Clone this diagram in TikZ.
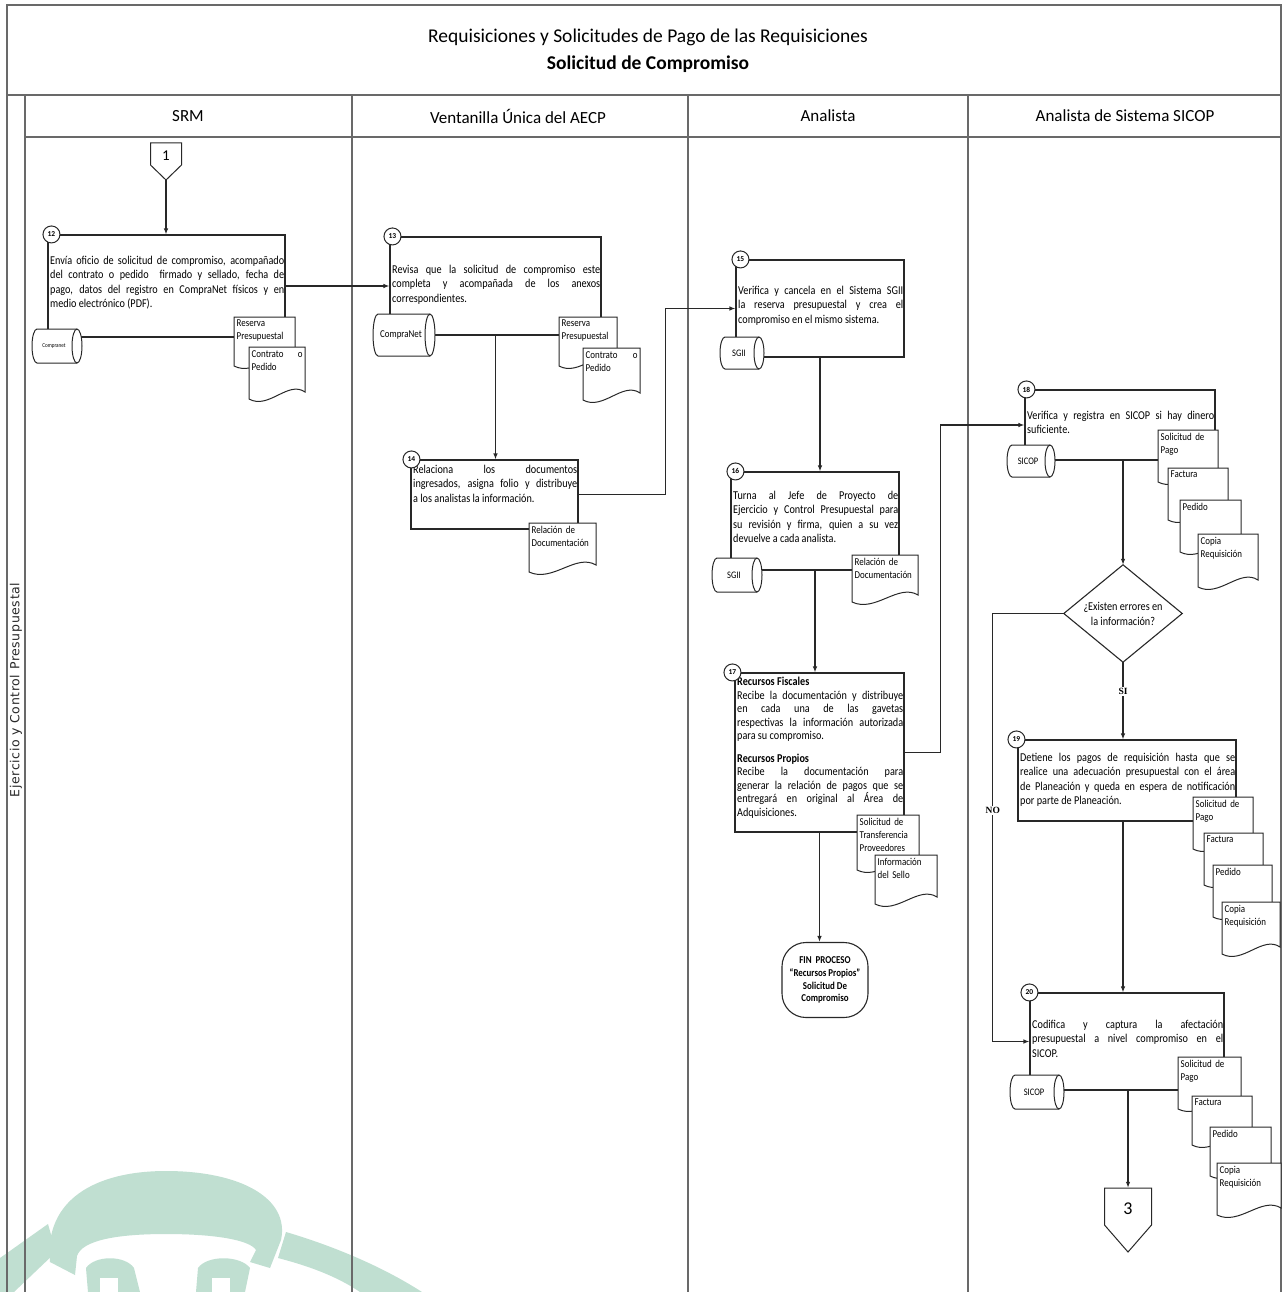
\documentclass[tikz,border=0pt]{standalone}
\usepackage{fontspec}
\setmainfont{Carlito}
\newfontfamily\bodyfont[FakeStretch=0.85]{Carlito}
\newfontfamily\sidefont[LetterSpace=5]{DejaVu Sans}
\newfontfamily\tagfont{Liberation Serif}
\usetikzlibrary{arrows.meta,fit,calc}

\definecolor{ink}{RGB}{40,40,40}
\definecolor{rulegray}{RGB}{105,105,105}
\definecolor{seal}{RGB}{192,223,209}

% database drum lying on its side: name, centre x, centre y, half width, half height, label
\newcommand\drum[6]{%
  \draw[drumline]
    ({#2+#4-5},{#3-#5}) -- ({#2-#4+5},{#3-#5})
    arc[start angle=90,end angle=270,x radius=5pt,y radius=#5pt]
    -- ({#2+#4-5},{#3+#5})
    arc[start angle=-90,end angle=90,x radius=5pt,y radius=#5pt] -- cycle;
  \draw[drumline,fill=none] ({#2+#4-5},{#3-#5})
    arc[start angle=90,end angle=270,x radius=5pt,y radius=#5pt];
  \node[drumtext] (#1) at ({#2-3},#3) {#6};}

% paper document with a wavy lower edge: name, x, y, width, height, label
\newcommand\paper[6]{%
  \draw[drumline]
    (#2,#3) -- ({#2+#4},#3) -- ({#2+#4},{#3+#5-10})
    .. controls ({#2+0.7*#4},{#3+#5-22}) and ({#2+0.35*#4},{#3+#5+8}) .. (#2,{#3+#5-3}) -- cycle;
  \pgfmathsetmacro\paperwd{#4-5}
  \node[papertext, text width=\paperwd pt] (#1) at ({#2+2.5},{#3+3}) {#6};}

% off-page reference: name, centre x, top y, half width, body height, tip depth, label, font size
\newcommand\offpage[8]{%
  \draw[drumline] ({#2-#4},#3) -- ({#2+#4},#3) -- ({#2+#4},{#3+#5}) -- (#2,{#3+#5+#6}) -- ({#2-#4},{#3+#5}) -- cycle;
  \node[inner sep=0pt, fit={({#2-#4},#3) ({#2+#4},{#3+#5+#6})}] (#1) {};
  \node[inner sep=0pt, font=\fontsize{#8}{#8}\selectfont] (#1-t) at (#2,{#3+#5/2+2}) {#7};}

\begin{document}
\begin{tikzpicture}[x=1pt,y=-1pt,
  frameline/.style={draw=rulegray, line width=1.3pt},
  wire/.style={draw=ink, line width=1.1pt},
  flow/.style={wire, -{Latex[length=6pt,width=4.5pt]}},
  stepbox/.style={draw=ink, line width=1.1pt, inner sep=0pt},
  steptext/.style={inner sep=0pt, anchor=north west, align=justify, font=\bodyfont\fontsize{12}{14.3}\selectfont},
  numdot/.style={circle, draw=ink, line width=1pt, fill=white, minimum size=17pt, inner sep=0pt, font=\bfseries\fontsize{7.5}{7.5}\selectfont},
  drumline/.style={draw=ink, line width=1pt, fill=white},
  drumtext/.style={inner sep=0pt, font=\bodyfont\fontsize{10}{11}\selectfont},
  papertext/.style={inner sep=0pt, anchor=north west, align=left, font=\bodyfont\fontsize{10.5}{13}\selectfont},
  lanehead/.style={font=\fontsize{17}{20}\selectfont},
  tag/.style={font=\tagfont\bfseries\fontsize{9.5}{10}\selectfont, fill=white, inner sep=1.5pt},
]
\useasboundingbox (0,0) rectangle (1282,1292);
\fill[white] (0,0) rectangle (1282,1292);

% faint emblem in the lower left corner
\begin{scope}
  \fill[seal] (50,1262) .. controls (44,1200) and (95,1171) .. (166,1171)
    .. controls (240,1171) and (290,1198) .. (281,1240) -- (270,1268) -- (250,1262) -- (256,1250)
    .. controls (250,1240) and (215,1234) .. (166,1234)
    .. controls (118,1234) and (82,1240) .. (77,1256) -- (75,1275) -- cycle;
  \fill[seal] (86,1268) .. controls (95,1255) and (125,1255) .. (134,1268) -- (140,1292) -- (88,1292) -- cycle;
  \fill[seal] (198,1268) .. controls (207,1255) and (240,1255) .. (250,1268) -- (245,1292) -- (196,1292) -- cycle;
  \fill[white] (100,1278) rectangle (118,1292);
  \fill[white] (212,1278) rectangle (230,1292);
  \fill[seal] (0,1258) -- (48,1224) -- (56,1252) -- (14,1292) -- (0,1292) -- cycle;
  \fill[seal] (286,1232) .. controls (330,1245) and (380,1265) .. (422,1292) -- (360,1292)
    .. controls (335,1275) and (305,1265) .. (278,1258) -- cycle;
\end{scope}

% frame, title band and swimlanes
\draw[frameline] (7,1292) -- (7,5) -- (1281,5) -- (1281,1292);
\draw[frameline] (7,95) -- (1281,95);
\draw[frameline] (25,1292) -- (25,95);
\draw[frameline] (25,137) -- (1281,137);
\draw[frameline] (352,95) -- (352,1292);
\draw[frameline] (688,95) -- (688,1292);
\draw[frameline] (968,95) -- (968,1292);

\node[font=\fontsize{19.5}{22}\selectfont] (title) at (648,37) {Requisiciones y Solicitudes de Pago de las Requisiciones};
\node[font=\bfseries\fontsize{19.5}{22}\selectfont] (subtitle) at (648,64) {Solicitud de Compromiso};

\node[lanehead] (h1) at (188,116) {SRM};
\node[lanehead] (h2) at (518,116) {Ventanilla Única del AECP};
\node[lanehead] (h3) at (828,116) {Analista};
\node[lanehead] (h4) at (1125,116) {Analista de Sistema SICOP};

\node[rotate=90, font=\sidefont\fontsize{12.5}{14}\selectfont, text=ink] (side) at (16,690) {Ejercicio y Control Presupuestal};

% process boxes
\node[stepbox, fit={(48,235) (285,337)}] (s12) {};
\node[stepbox, fit={(390,237) (601,335)}] (s13) {};
\node[stepbox, fit={(411,460) (578,529)}] (s14) {};
\node[stepbox, fit={(736,260) (904,357)}] (s15) {};
\node[stepbox, fit={(731,472) (899,570)}] (s16) {};
\node[stepbox, fit={(735,673) (904,832)}] (s17) {};
\node[stepbox, fit={(1025,390) (1215,460)}] (s18) {};
\node[stepbox, fit={(1018,740) (1236,821)}] (s19) {};
\node[stepbox, fit={(1030,993) (1224,1090)}] (s20) {};

\node[steptext, text width=234pt] (t12) at (50,256) {Envía oficio de solicitud de compromiso, acompañado\linebreak del contrato o pedido\ \ firmado y sellado, fecha de\linebreak pago, datos del registro en CompraNet físicos y en\linebreak medio electrónico (PDF).};
\node[steptext, text width=208pt] (t13) at (392,265) {Revisa que la solicitud de compromiso este\linebreak completa y acompañada de los anexos\linebreak correspondientes.};
\node[steptext, text width=164pt] (t14) at (413,465) {Relaciona los documentos\linebreak ingresados, asigna folio y distribuye\linebreak a los analistas la información.};
\node[steptext, text width=165pt] (t15) at (738,286) {Verifica y cancela en el Sistema SGII\linebreak la reserva presupuestal y crea el\linebreak compromiso en el mismo sistema.};
\node[steptext, text width=165pt] (t16) at (733,491) {Turna al Jefe de Proyecto de\linebreak Ejercicio y Control Presupuestal para\linebreak su revisión y firma, quien a su vez\linebreak devuelve a cada analista.};
\node[steptext, text width=166pt, font=\bodyfont\fontsize{12}{13.5}\selectfont] (t17) at (737,677) {\textbf{Recursos Fiscales}\par Recibe la documentación y distribuye\linebreak en cada una de las gavetas\linebreak respectivas la información autorizada\linebreak para su compromiso.\par\vspace{9pt}\textbf{Recursos Propios}\par Recibe la documentación para\linebreak generar la relación de pagos que se\linebreak entregará en original al Área de\linebreak Adquisiciones.};
\node[steptext, text width=187pt] (t18) at (1027,411) {Verifica y registra en SICOP si hay dinero\linebreak suficiente.};
\node[steptext, text width=215pt] (t19) at (1020,753) {Detiene los pagos de requisición hasta que se\linebreak realice una adecuación presupuestal con el área\linebreak de Planeación y queda en espera de notificación\linebreak por parte de Planeación.};
\node[steptext, text width=191pt] (t20) at (1032,1020) {Codifica y captura la afectación\linebreak presupuestal a nivel compromiso en el\linebreak SICOP.};

% decision
\node[inner sep=0pt, fit={(1064,565) (1182,662)}] (dia) {};
\draw[wire, fill=white] (dia.north) -- (dia.east) -- (dia.south) -- (dia.west) -- cycle;
\node[align=center, inner sep=0pt, font=\bodyfont\fontsize{12}{15}\selectfont] (diatext) at (dia.center) {¿Existen errores en\\la información?};

% end of process
\node[draw=ink, line width=1.1pt, rounded corners=24pt, minimum width=86pt, minimum height=75pt, align=center, inner sep=0pt, font=\bodyfont\bfseries\fontsize{10.5}{12.8}\selectfont] (fin) at (825,980) {FIN\ \ PROCESO\\“Recursos Propios”\\Solicitud De\\Compromiso};

% off-page references
\offpage{off1}{166}{143}{15.5}{22}{15}{1}{15}
\offpage{off3}{1128}{1188}{23.5}{37}{27}{3}{18}

% flow
\draw[flow] (off1.south) -- (off1.south |- s12.north);
\draw[flow] (s12.east) -- (s13.west);
\draw[flow] (s13.south) -- (s13.south |- s14.north);
\draw[flow] (s14.east) -- ++(87,0) |- (s15.west);
\draw[flow] (s15.south) -- (s15.south |- s16.north);
\draw[flow] (s16.south) -- (s16.south |- s17.north);
\draw[flow] (s17.south) -- (s17.south |- fin.north);
\draw[flow] (s17.east) -- ++(36,0) |- (s18.west);
\draw[flow] (dia.north |- s18.south) -- (dia.north);
\draw[flow] (dia.south) -- node[tag, pos=0.38] (si) {SI} (dia.south |- s19.north);
\draw[flow] (dia.west) -- ++(-71,0) coordinate (nobend) -- node[tag, pos=0.46] (no) {NO} (nobend |- s20.west) -- (s20.west);
\draw[flow] (s19.south -| dia.south) -- (dia.south |- s20.north);
\draw[flow] (s20.south -| off3.north) -- (off3.north);

% data stores
\drum{db12}{57}{346}{25}{17}{\fontsize{6}{6}\selectfont Compranet}
\drum{db13}{404}{335}{31}{21}{\fontsize{10.5}{11}\selectfont CompraNet}
\drum{db15}{742}{353}{22}{16}{SGII}
\drum{db16}{737}{575}{25}{17}{SGII}
\drum{db18}{1031}{461}{24}{16}{SICOP}
\drum{db20}{1037}{1092}{27}{17}{SICOP}

% documents
\paper{d12a}{234}{317}{61}{52}{Reserva\\Presupuestal}
\paper{d12b}{249}{347}{56}{55}{Contrato\hspace{\fill}o\\Pedido}
\paper{d13a}{559}{317}{58}{52}{Reserva\\Presupuestal}
\paper{d13b}{583}{348}{57}{55}{Contrato\hspace{\fill}o\\Pedido}
\paper{d14}{529}{523}{67}{52}{Relación de\\Documentación}
\paper{d16}{852}{555}{66}{50}{Relación de\\Documentación}
\paper{d17a}{857}{815}{62}{58}{Solicitud de\\Transferencia\\Proveedores}
\paper{d17b}{875}{855}{62}{52}{Información\\del Sello}
\paper{d18a}{1158}{430}{60}{55}{Solicitud de\\Pago}
\paper{d18b}{1168}{468}{60}{55}{Factura}
\paper{d18c}{1180}{500}{61}{55}{Pedido}
\paper{d18d}{1198}{534}{60}{56}{Copia\\Requisición}
\paper{d19a}{1193}{797}{60}{55}{Solicitud de\\Pago}
\paper{d19b}{1204}{833}{59}{55}{Factura}
\paper{d19c}{1213}{865}{59}{55}{Pedido}
\paper{d19d}{1222}{902}{58}{55}{Copia\\Requisición}
\paper{d20a}{1178}{1057}{63}{55}{Solicitud de\\Pago}
\paper{d20b}{1192}{1096}{60}{52}{Factura}
\paper{d20c}{1210}{1127}{61}{52}{Pedido}
\paper{d20d}{1217}{1163}{64}{55}{Copia\\Requisición}

% step numbers
\node[numdot] (n12) at ([xshift=4pt]s12.north west) {12};
\node[numdot] (n13) at ([xshift=3pt]s13.north west) {13};
\node[numdot] (n14) at ([xshift=1pt]s14.north west) {14};
\node[numdot] (n15) at ([xshift=5pt]s15.north west) {15};
\node[numdot] (n16) at ([xshift=5pt]s16.north west) {16};
\node[numdot] (n17) at ([xshift=-2pt]s17.north west) {17};
\node[numdot] (n18) at ([xshift=2pt]s18.north west) {18};
\node[numdot] (n19) at ([xshift=-1pt]s19.north west) {19};
\node[numdot] (n20) at ([xshift=0pt]s20.north west) {20};
\end{tikzpicture}
\end{document}
